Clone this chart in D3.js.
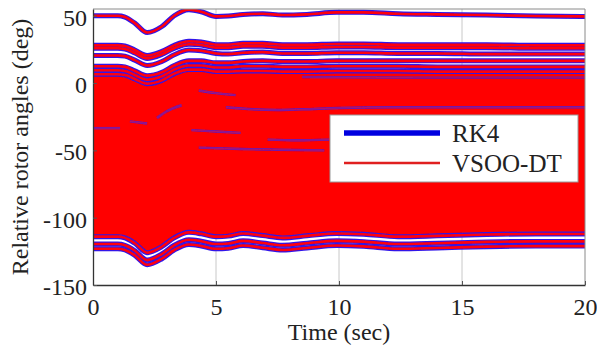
<!DOCTYPE html>
<html><head><meta charset="utf-8">
<script src="https://cdn.jsdelivr.net/npm/d3@7/dist/d3.min.js"></script>
<style>body{margin:0;background:#fff}svg{display:block}text{font-family:"Liberation Serif",Tinos,"Times New Roman",Times,serif;fill:#222}</style>
</head><body>
<script>
// ---- data ----
const time = [0,1,1.3,1.7,2.2,2.8,3.3,3.9,4.4,5.0,5.5,6.1,6.9,7.7,8.7,9.9,11,12.4,14,16,18,20];
const genTop = [50,50,49,44.5,37.5,42,50,54.5,53,49.5,49.8,51,51.5,50.5,51,52.5,52.5,51.5,51,50.5,49.8,49.5];
const gen2a = [28,28,27.5,24.5,20.5,23.5,28,31,30.5,28.5,28.5,29.5,29.5,28.5,28.5,29,29,28.5,28.5,28.5,28,28];
const gen2b = [25.8,25.8,25.3,22.3,18.3,21.3,25.8,28.8,28.3,26.3,26.3,27.3,27.3,26.3,26.3,26.8,26.8,26.3,26.3,26.3,25.8,25.8];
const gen3 = [20.5,20.5,20,17,13,16,21,24.5,24,22,21.5,22.5,23,22,22,22.5,22.5,22,22,21.5,21.5,21.5];
const gen4 = [12.5,12.5,12,9,5.5,8,13,16.5,16.5,15,15,16,16.5,16,16,16.5,16.5,16.5,16.5,16.5,16.5,16.5];
const gen5 = [9.5,9.5,9,6,2.5,5,10,13,13,11.5,11.5,12.5,12.5,12,12,12.5,12.5,12.5,12,12,12,12];
const gen6 = [6.5,6.5,6,3,-0.5,2,7,10,10,8.5,8.5,9,9,8.5,8.5,9,9,9,8.5,8.5,8.5,8.5];
const genE = [-114.1,-114.1,-115,-119,-126,-121.5,-115,-110.9,-112,-114.1,-113.7,-111.7,-113.3,-115,-113.5,-111.7,-112.3,-114.1,-113.5,-112.5,-112.1,-112.1];
const genB1 = [-119.6,-119.6,-120.5,-124.5,-131.5,-127,-120.5,-116.4,-117.5,-119.6,-119.2,-117.2,-118.8,-120.5,-119,-117.2,-117.8,-119.6,-119,-118,-117.6,-117.6];
const genB2 = [-123.1,-123.1,-124,-128,-135,-130.5,-124,-119.9,-121,-123.1,-122.7,-120.7,-122.3,-124,-122.5,-120.7,-121.3,-123.1,-122.5,-121.5,-121.1,-121.1];
// interior traces where the RK4 (blue) curve shows through the dense band
const innerTimes = [[0,1.1],[1.5,2.2],[2.6,3.0,3.6],[4.3,5.0,5.8],[5.4,6.5,7.5,8.5,10,12,14,17,20],[4.0,5.0,6.0],[4.3,6,7.5,9.4],[7.1,8.3,9.6],[8.5,13,20]];
const innerValues = [[-33.5,-33.5],[-28.5,-30],[-26,-21,-16.5],[-5.5,-7.5,-9],[-18,-19.5,-20,-19.5,-18.5,-18,-18,-18,-18],[-35,-36,-37],[-48,-49,-49.5,-50],[-42,-42.5,-42],[4.5,4,4]];
const xTicks = [0,5,10,15,20];
const yTicks = [-150,-100,-50,0,50];
const seriesNames = ["RK4","VSOO-DT"];

const W = 597, H = 349;
const m = {left:93, right:585, top:9, bottom:285};
const x = d3.scaleLinear().domain([0,20]).range([m.left,m.right]);
const y = d3.scaleLinear().domain([-150,55]).range([m.bottom,m.top]);

const svg = d3.select("body").append("svg").attr("width",W).attr("height",H);
const defs = svg.append("defs");
defs.append("clipPath").attr("id","clip").append("rect")
  .attr("x",m.left).attr("y",m.top).attr("width",m.right-m.left).attr("height",m.bottom-m.top);
defs.append("filter").attr("id","soft").append("feGaussianBlur").attr("stdDeviation",0.7);

// grid
svg.append("g").selectAll("line").data(xTicks.slice(1,-1)).join("line")
  .attr("x1",d=>x(d)).attr("x2",d=>x(d)).attr("y1",m.top).attr("y2",m.bottom)
  .attr("stroke","#c8c8c8").attr("stroke-width",1);

const plot = svg.append("g").attr("clip-path","url(#clip)").append("g").attr("filter","url(#soft)");
const line = d3.line().x(d=>x(d[0])).y(d=>y(d[1])).curve(d3.curveMonotoneX);
const pts = arr => time.map((t,i)=>[t,arr[i]]);

// dense band envelope (many overlapping VSOO-DT traces)
plot.append("path")
  .datum(time.map((t,i)=>({t, hi:gen6[i], lo:genE[i]})))
  .attr("fill","#ff0000")
  .attr("d", d3.area().x(d=>x(d.t)).y0(d=>y(d.lo)).y1(d=>y(d.hi)).curve(d3.curveMonotoneX));

const traces = [genTop,gen2a,gen2b,gen3,gen4,gen5,gen6,genE,genB1,genB2];
const inner = innerTimes.map((ts,k)=>ts.map((t,i)=>[t,innerValues[k][i]]));

// RK4 (blue, wide)
plot.append("g").selectAll("path").data(traces).join("path")
  .attr("d",d=>line(pts(d))).attr("fill","none").attr("stroke","#3014e8").attr("stroke-width",5);
plot.append("g").selectAll("path").data(inner).join("path")
  .attr("d",line).attr("fill","none").attr("stroke","#6018c0").attr("stroke-width",2.4);
// VSOO-DT (red, thin)
plot.append("g").selectAll("path").data(traces).join("path")
  .attr("d",d=>line(pts(d))).attr("fill","none").attr("stroke","#ff0010").attr("stroke-width",2.6);
plot.append("g").selectAll("path").data(inner).join("path")
  .attr("d",line).attr("fill","none").attr("stroke","#c81050").attr("stroke-width",0.8);

// box
svg.append("line").attr("x1",m.left).attr("x2",m.right).attr("y1",m.top).attr("y2",m.top).attr("stroke","#8a8a8a");
svg.append("line").attr("x1",m.right).attr("x2",m.right).attr("y1",m.top).attr("y2",m.bottom).attr("stroke","#8a8a8a");

// axes
const fmt = d => String(d);
const xAxis = svg.append("g").attr("transform",`translate(0,${m.bottom})`)
  .call(d3.axisBottom(x).tickValues(xTicks).tickFormat(fmt).tickSizeInner(-4).tickSizeOuter(0).tickPadding(13));
const yAxis = svg.append("g").attr("transform",`translate(${m.left},0)`)
  .call(d3.axisLeft(y).tickValues(yTicks).tickFormat(fmt).tickSizeInner(-4).tickSizeOuter(0).tickPadding(6));
[xAxis,yAxis].forEach(a=>{
  a.select(".domain").attr("stroke","#333").attr("stroke-width",1.3);
  a.selectAll(".tick line").attr("stroke","#555");
  a.selectAll("text").attr("font-size",24).attr("fill","#222")
   .style("font-family",'"Liberation Serif",Tinos,"Times New Roman",Times,serif');
});
xAxis.selectAll("text").attr("dy","0.71em");
yAxis.selectAll("text").attr("dy","0.4em");

svg.append("text").attr("x",(m.left+m.right)/2).attr("y",340).attr("text-anchor","middle")
  .attr("font-size",24).text("Time (sec)");
svg.append("text").attr("transform",`translate(28,${(m.top+m.bottom)/2}) rotate(-90)`)
  .attr("text-anchor","middle").attr("font-size",24).text("Relative rotor angles (deg)");

// legend
const lg = svg.append("g");
lg.append("rect").attr("x",330).attr("y",115).attr("width",248).attr("height",67)
  .attr("fill","#fff").attr("stroke","#9a9a9a");
const lgItems = [{name:seriesNames[0],color:"#0000e0",w:5.5,y:133},{name:seriesNames[1],color:"#e02020",w:2.5,y:163}];
lgItems.forEach(it=>{
  lg.append("line").attr("x1",344).attr("x2",440).attr("y1",it.y).attr("y2",it.y)
    .attr("stroke",it.color).attr("stroke-width",it.w);
  lg.append("text").attr("x",452).attr("y",it.y+9).attr("font-size",25).text(it.name);
});
</script>
</body></html>
